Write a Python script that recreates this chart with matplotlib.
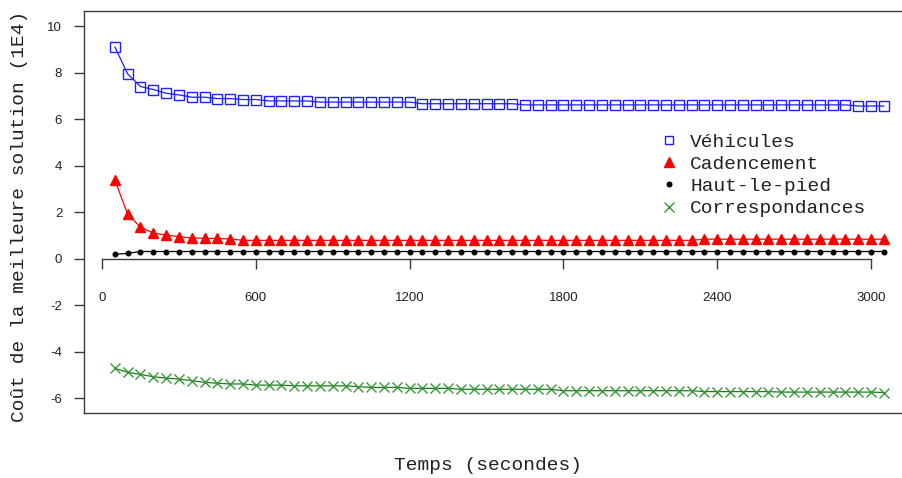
import matplotlib
matplotlib.use("Agg")
import matplotlib.pyplot as plt
from matplotlib.lines import Line2D

# ---- data (cost of best solution, in units of 1E4) ----
temps = list(range(50, 3051, 50))

vehicules = [9.11, 7.95, 7.41, 7.28, 7.12, 7.05, 6.95, 6.95, 6.89, 6.89, 6.85, 6.85,
             6.79, 6.79, 6.79, 6.79,
             6.74, 6.74, 6.74, 6.74, 6.74, 6.74, 6.74, 6.74,
             6.67, 6.67, 6.67, 6.67, 6.67, 6.67, 6.67, 6.67] + [6.62] * 26 + [6.57] * 3

cadencement = [3.39, 1.91, 1.36, 1.10, 1.02, 0.95, 0.89, 0.88, 0.87, 0.85] + \
              [0.79] * 36 + [0.84] * 15

haut_le_pied = [0.19, 0.23] + [0.31] * 59

correspondances = [-4.72, -4.89, -4.98, -5.08, -5.14, -5.18, -5.25, -5.32, -5.36, -5.39,
                   -5.39, -5.44, -5.44, -5.44, -5.47, -5.47, -5.47, -5.47, -5.47, -5.51,
                   -5.54, -5.54, -5.54, -5.58, -5.58, -5.58, -5.58, -5.62, -5.62, -5.62,
                   -5.62] + [-5.62] * 4 + [-5.68] * 11 + [-5.72] * 6 + [-5.74] * 8 + [-5.76]

labels = ["Véhicules", "Cadencement", "Haut-le-pied", "Correspondances"]
xticks = [0, 600, 1200, 1800, 2400, 3000]
yticks = [-6, -4, -2, 0, 2, 4, 6, 8, 10]

W, H = 903, 478
fig = plt.figure(figsize=(W / 100, H / 100), dpi=100)
ax = fig.add_axes([84 / W, (H - 413) / H, (W - 84 + 2) / W, (413 - 11) / H])

mono = "Liberation Mono"
sans = "Liberation Sans"
axcol = "#3a3a3a"

ax.plot(temps, vehicules, color="#1f1fff", lw=0.9, marker="s", ms=7,
        mfc="none", mec="#1f1fff", mew=1.0)
ax.plot(temps, cadencement, color="#ff0000", lw=0.9, marker="^", ms=7.5,
        mfc="#ff0000", mec="#ff0000")
ax.plot(temps, haut_le_pied, color="black", lw=0.9, marker="o", ms=3.3,
        mfc="black", mec="black")
ax.plot(temps, correspondances, color="#1e7a1e", lw=0.9, marker="x", ms=7,
        mec="#3a9a3a", mew=1.0)

ax.set_xlim(-70.4, 3132.6)
ax.set_ylim(-6.64, 10.66)

# spines: box (left, top, bottom) + x axis drawn at y = 0
for s in ["left", "top", "right"]:
    ax.spines[s].set_color(axcol)
    ax.spines[s].set_linewidth(1.0)
ax.spines["right"].set_visible(False)
ax.spines["bottom"].set_position(("data", 0))
ax.spines["bottom"].set_bounds(0, 3000)
ax.spines["bottom"].set_color(axcol)
ax.spines["bottom"].set_linewidth(1.0)
ax.add_line(Line2D([0, 1], [0, 0], transform=ax.transAxes, color=axcol,
                   lw=1.0, clip_on=False))

ax.set_xticks(xticks)
ax.set_xticklabels([str(v) for v in xticks], fontfamily=sans, fontsize=9.5)
ax.set_yticks(yticks)
ax.set_yticklabels([str(v) for v in yticks], fontfamily=sans, fontsize=9.5)
ax.tick_params(axis="x", direction="out", length=7.2, width=1.0, color=axcol,
               pad=16.5, labelcolor="#222222")
ax.tick_params(axis="y", direction="out", length=7.2, width=1.0, color=axcol,
               pad=8.5, labelcolor="#222222")

fig.text(20 / W, (H - 216) / H, "Coût de la meilleure solution (1E4)",
         rotation=90, ha="center", va="center", fontfamily=mono, fontsize=14,
         color="#222222")
fig.text(488 / W, (H - 465) / H, "Temps (secondes)", ha="center", va="center",
         fontfamily=mono, fontsize=14, color="#222222")

handles = [
    Line2D([], [], ls="none", marker="s", ms=6, mfc="none", mec="#1f1fff", mew=1.0),
    Line2D([], [], ls="none", marker="^", ms=7, mfc="#ff0000", mec="#ff0000"),
    Line2D([], [], ls="none", marker="o", ms=3.3, mfc="black", mec="black"),
    Line2D([], [], ls="none", marker="x", ms=7, mec="#3a9a3a", mew=1.0),
]
ax.legend(handles, labels, loc="upper left",
          bbox_to_anchor=(659.3 / W, (H - 133) / H),
          bbox_transform=fig.transFigure, frameon=False,
          prop={"family": mono, "size": 14}, borderpad=0, borderaxespad=0,
          handlelength=1.0, handletextpad=0.58, labelspacing=0.24,
          labelcolor="#222222")

fig.savefig("out.png", dpi=100)
